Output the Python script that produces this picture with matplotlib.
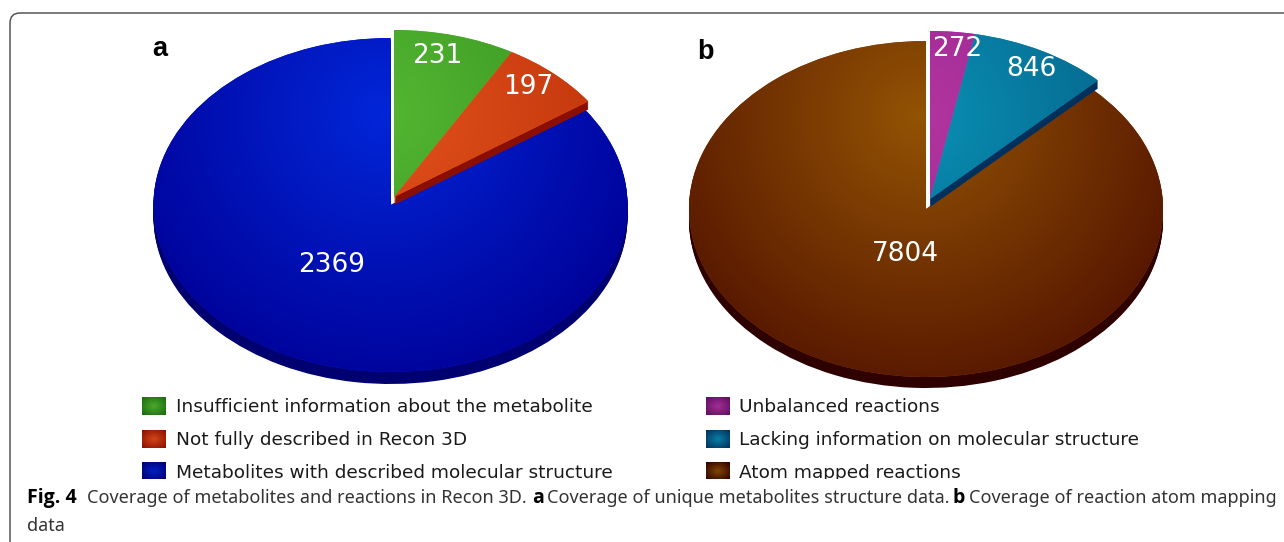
import numpy as np
import matplotlib
matplotlib.use('Agg')
import matplotlib.pyplot as plt
from matplotlib.colors import LinearSegmentedColormap
from matplotlib.patches import Rectangle, FancyBboxPatch

W, H = 1284, 542

# panel a
labels_a = ['Insufficient information about the metabolite',
            'Not fully described in Recon 3D',
            'Metabolites with described molecular structure']
values_a = [231, 197, 2369]
# panel b
labels_b = ['Unbalanced reactions',
            'Lacking information on molecular structure',
            'Atom mapped reactions']
values_b = [272, 846, 7804]

# (middle, edge, side) colours
colors_a = [('#55b632', '#2f8c1c', '#1c6a10'),
            ('#e2521c', '#bb2f08', '#8a0f02'),
            ('#0226d8', '#000096', '#000070')]
colors_b = [('#b2359f', '#8c1f8c', '#5c0f60'),
            ('#0a8fb4', '#04587f', '#02305c'),
            ('#935304', '#541400', '#2e0000')]


def gradient(ax, col, fx, fy, clip):
    xs, ys = np.meshgrid(np.linspace(-1.3, 1.3, 400), np.linspace(-1.3, 1.3, 400))
    t = np.clip(np.hypot((xs - fx) / 1.25, (ys - fy) / 1.75), 0, 1)
    cmap = LinearSegmentedColormap.from_list('g', [col[0], col[1]])
    im = ax.imshow(t, extent=(-1.3, 1.3, -1.3, 1.3), origin='lower', cmap=cmap,
                   vmin=0, vmax=1, aspect='auto', zorder=clip.get_zorder())
    im.set_clip_path(clip)


def pie_3d(values, colors, big_c, small_c, big_depth, small_depth, rx, ry):
    # one data unit is rx by ry pixels
    x0, y0 = big_c[0] - 1.3 * rx, big_c[1] - 1.3 * ry
    ax = fig.add_axes([x0 / W, 1 - (y0 + 2.6 * ry) / H, 2.6 * rx / W, 2.6 * ry / H])
    dx = (small_c[0] - big_c[0]) / rx
    dy = -(small_c[1] - big_c[1]) / ry
    # side walls, the same pie pushed down step by step
    for d in range(1, max(big_depth, small_depth) + 1):
        wedges, _ = ax.pie(values, startangle=90, counterclock=False, radius=1,
                           colors=[c[2] for c in colors])
        for i, w in enumerate(wedges):
            w.set_edgecolor('none')
            if i == 2 and d <= big_depth:
                w.set_center((0, -d / ry))
                w.set_zorder(1)
            elif i == 1 and d <= small_depth:
                w.set_center((dx, dy - d / ry))
                w.set_zorder(3)
            else:
                w.set_visible(False)
    # top faces
    wedges, _ = ax.pie(values, startangle=90, counterclock=False, radius=1,
                       colors=[c[0] for c in colors])
    for i, w in enumerate(wedges):
        w.set_center((dx, dy) if i < 2 else (0, 0))
        w.set_edgecolor('none')
        w.set_zorder(4 if i < 2 else 2)
        gradient(ax, colors[i], -0.03, 0.55, w)
    ax.set_aspect('auto')
    ax.set_xlim(-1.3, 1.3)
    ax.set_ylim(-1.3, 1.3)
    ax.patch.set_alpha(0)
    return ax


def legend_rows(labels, colors, xs, xt):
    for lab, col, y in zip(labels, colors, row_y):
        t = np.hypot(*np.meshgrid(np.linspace(-1, 1, 30), np.linspace(-1, 1, 30))) / 1.4
        cmap = LinearSegmentedColormap.from_list('g', [col[0], col[2]])
        over.imshow(t, extent=(xs, xs + 24, y + 9, y - 9), cmap=cmap, vmin=-0.2, vmax=1,
                    aspect='auto', zorder=2)
        over.text(xt, y + 1, lab, fontsize=13.3, color='#1a1a1a', va='center',
                  family='DejaVu Sans', zorder=2)


fig = plt.figure(figsize=(W / 100, H / 100), dpi=100)

ax_a = pie_3d(values_a, colors_a, (390.5, 205), (394, 197), 12, 8, 237, 167)
ax_b = pie_3d(values_b, colors_b, (926, 209), (930, 199), 11, 8, 237, 168)

over = fig.add_axes([0, 0, 1, 1], zorder=5)
over.patch.set_alpha(0)
over.axis('off')

row_y = [406.5, 439, 471.5]
legend_rows(labels_a, colors_a, 142, 176)
legend_rows(labels_b, colors_b, 706, 739)

# white band cuts the last legend row, caption sits on it
over.add_patch(Rectangle((11, 479), W, 70, fc='white', ec='none', zorder=3))

# rounded frame, open on the right and at the bottom
over.add_patch(FancyBboxPatch((10, 13), W + 40, H + 40,
                              boxstyle='round,pad=0,rounding_size=10',
                              fc='none', ec='#555555', lw=1.1, zorder=4))

for val, x, y in [(values_a[0], 437, 56), (values_a[1], 528, 87),
                  (values_b[0], 957, 49), (values_b[1], 1031, 69),
                  (values_a[2], 332, 265), (values_b[2], 905, 254)]:
    over.text(x, y, str(val), color='white', fontsize=19, ha='center', va='center',
              family='DejaVu Sans', zorder=6)

over.text(152, 49, 'a', fontsize=19.5, fontweight='bold', family='Liberation Sans', va='center')
over.text(697, 52, 'b', fontsize=19.5, fontweight='bold', family='Liberation Sans', va='center')

# caption pieces: (x, text, bold)
caption = [(27, 'Fig. 4', True),
           (87, 'Coverage of metabolites and reactions in Recon 3D.', False),
           (532, 'a', True),
           (547, 'Coverage of unique metabolites structure data.', False),
           (953, 'b', True),
           (969, 'Coverage of reaction atom mapping', False)]
for x, txt, bold in caption:
    if bold:
        over.text(x, 498, txt, fontsize=14, fontweight='bold', family='Open Sans',
                  va='center', zorder=5, color='black')
    else:
        over.text(x, 498, txt, fontsize=13, family='Noto Sans', va='center', zorder=5,
                  color='#333333')
over.text(27, 526, 'data', fontsize=13, family='Noto Sans', va='center', zorder=5,
          color='#333333')

over.set_xlim(0, W)
over.set_ylim(H, 0)

fig.savefig('out.png', dpi=100)
